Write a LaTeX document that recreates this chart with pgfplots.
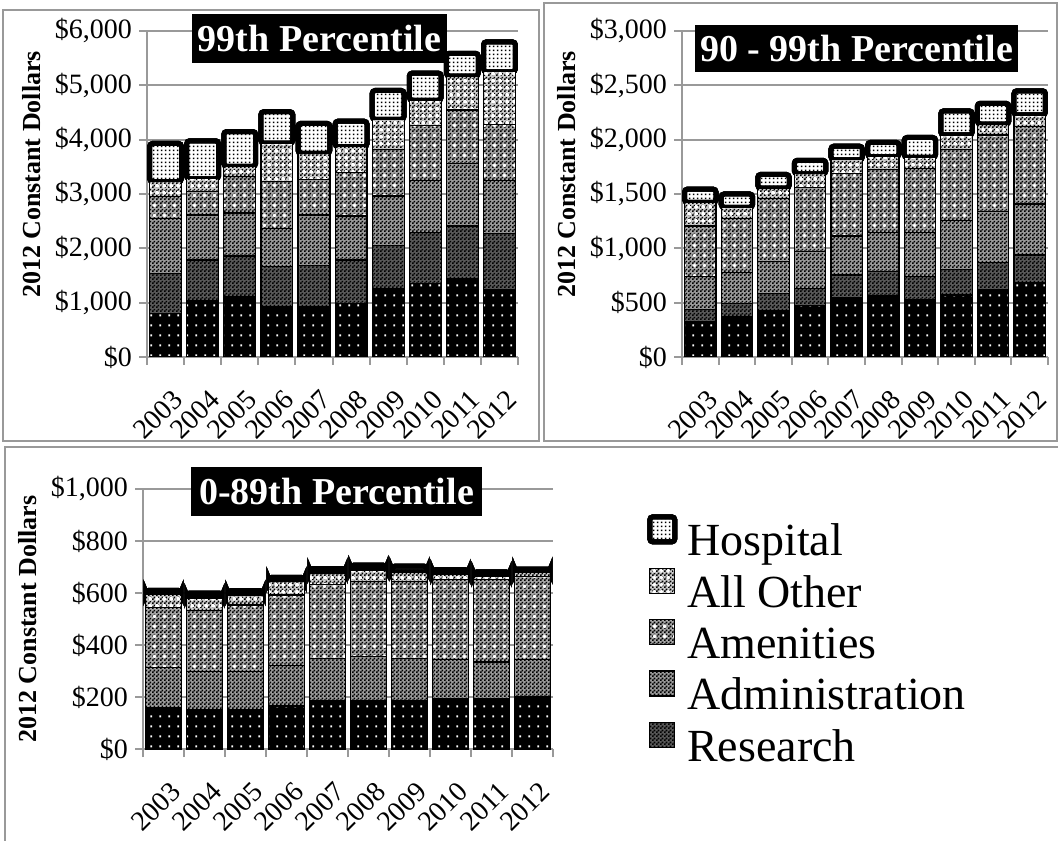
\documentclass[border=0pt]{standalone}
\usepackage{fontspec}
\setmainfont{Liberation Serif}
\usepackage{pgfplots}
\pgfplotsset{compat=1.18}
\usepackage{pgfplotstable}
\usetikzlibrary{patterns}

% fill patterns (1pt = 2px in the output)
\pgfdeclarepatternformonly{wdots}{\pgfqpoint{0pt}{0pt}}{\pgfqpoint{4.6pt}{5pt}}{\pgfqpoint{4.6pt}{5pt}}{%
  \pgfpathrectangle{\pgfqpoint{1.8pt}{2pt}}{\pgfqpoint{1pt}{1pt}}\pgfusepath{fill}}
\pgfdeclarepatternformonly{hdots}{\pgfqpoint{0pt}{0pt}}{\pgfqpoint{2pt}{2pt}}{\pgfqpoint{2pt}{2pt}}{%
  \pgfpathrectangle{\pgfqpoint{0.5pt}{0.5pt}}{\pgfqpoint{1pt}{1pt}}\pgfusepath{fill}}
\pgfdeclarepatternformonly{chk}{\pgfqpoint{0pt}{0pt}}{\pgfqpoint{2pt}{2pt}}{\pgfqpoint{2pt}{2pt}}{%
  \pgfpathrectangle{\pgfqpoint{0pt}{0pt}}{\pgfqpoint{1pt}{1pt}}%
  \pgfpathrectangle{\pgfqpoint{1pt}{1pt}}{\pgfqpoint{1pt}{1pt}}\pgfusepath{fill}}
\pgfdeclarepatternformonly{wplus}{\pgfqpoint{0pt}{0pt}}{\pgfqpoint{5pt}{5pt}}{\pgfqpoint{5pt}{5pt}}{%
  \pgfpathrectangle{\pgfqpoint{1.5pt}{2pt}}{\pgfqpoint{2pt}{1pt}}%
  \pgfpathrectangle{\pgfqpoint{2pt}{1.5pt}}{\pgfqpoint{1pt}{2pt}}\pgfusepath{fill}}
\pgfdeclarepatternformonly{wplussm}{\pgfqpoint{0pt}{0pt}}{\pgfqpoint{3.5pt}{3.5pt}}{\pgfqpoint{3.5pt}{3.5pt}}{%
  \pgfpathrectangle{\pgfqpoint{0.75pt}{1.25pt}}{\pgfqpoint{2pt}{1pt}}%
  \pgfpathrectangle{\pgfqpoint{1.25pt}{0.75pt}}{\pgfqpoint{1pt}{2pt}}\pgfusepath{fill}}

% columns: instruction, research, administration, amenities, all other, hospital
\pgfplotstableread{
x ins res adm ame oth hos
0 800 740 1010 400 280 700
1 1030 755 830 430 235 700
2 1120 740 790 675 185 640
3 925 740 705 860 705 580
4 925 755 935 645 490 550
5 990 795 810 800 475 470
6 1265 780 920 860 550 530
7 1355 930 970 1010 460 500
8 1450 960 1155 980 625 420
9 1245 1030 980 1030 965 550
}\topone

\pgfplotstableread{
x ins res adm ame oth hos
0 323 114 301 468 216 123
1 369 123 283 502 101 122
2 425 160 292 585 92 126
3 477 154 338 594 123 124
4 548 206 360 572 129 125
5 561 224 359 583 117 131
6 525 214 405 592 101 183
7 571 236 448 656 132 222
8 617 251 469 706 101 191
9 684 255 469 712 107 223
}\topnine

\pgfplotstableread{
x ins res adm ame oth hos
0 155 3 155 232 48 17
1 150 3 145 236 45 21
2 150 3 145 256 38 17
3 163 3 154 272 51 17
4 182 3 164 283 45 17
5 182 3 172 286 44 20
6 182 3 163 295 38 22
7 191 3 150 308 20 18
8 191 3 141 317 12 17
9 200 3 141 318 18 12
}\restall

\pgfplotsset{
  sqleg/.style={legend image code/.code={\draw (0pt,1.4pt) rectangle (12.5pt,13.9pt);}},
  sins/.style={draw=black, line width=0.6pt, fill=none, preaction={fill=black},
    preaction={pattern=wdots, pattern color=white}},
  sres/.style={sqleg, draw=black, line width=0.6pt, fill=none, preaction={fill=black!65},
    preaction={pattern=chk, pattern color=black}},
  sadm/.style={sqleg, draw=black, line width=0.6pt, fill=none, preaction={fill=black!40},
    preaction={pattern=chk, pattern color=black}},
  same/.style={sqleg, draw=black, line width=0.6pt, fill=none, preaction={fill=black!35},
    preaction={pattern=chk, pattern color=black}, preaction={pattern=wplus, pattern color=white}},
  soth/.style={sqleg, draw=black, line width=0.6pt, fill=none, preaction={fill=black!20},
    preaction={pattern=chk, pattern color=black}, preaction={pattern=wplussm, pattern color=white}},
  shos/.style={sqleg, draw=black, line width=2.5pt, rounded corners=1.5pt, fill=none,
    preaction={fill=white}, preaction={pattern=hdots, pattern color=black}},
  panel/.style={
    ybar stacked, bar width=0.86,
    scale only axis, anchor=south west,
    xmin=-0.5, xmax=9.5, ymin=0,
    axis x line*=bottom, axis y line*=left,
    axis line style={draw=black!40, line width=1pt, -},
    ymajorgrids, major grid style={draw=black!40, line width=1pt},
    tick align=outside, major tick length=4pt, minor tick length=4pt,
    ytick style={draw=black!40, line width=1pt},
    xtick={0,1,...,9},
    xticklabels={2003,2004,2005,2006,2007,2008,2009,2010,2011,2012},
    major x tick style={draw=none},
    minor xtick={-0.5,0.5,...,9.5},
    minor x tick style={draw=black!40, line width=1pt},
    tick label style={font=\fontsize{14}{16}\selectfont},
    xticklabel style={rotate=45, anchor=north east, inner sep=1pt, xshift=-5pt, yshift=-9pt},
    ylabel={2012 Constant Dollars},
    ylabel style={font=\bfseries\fontsize{13}{15}\selectfont, at={(ticklabel cs:0.56)}},
  },
}

\newcommand{\stackall}[1]{%
  \addplot[sins, forget plot] table[x=x, y=ins] {#1};
  \addplot[sres] table[x=x, y=res] {#1};
  \addplot[sadm] table[x=x, y=adm] {#1};
  \addplot[same] table[x=x, y=ame] {#1};
  \addplot[soth] table[x=x, y=oth] {#1};
  \addplot[shos] table[x=x, y=hos] {#1};
}

\begin{document}
\begin{tikzpicture}
\useasboundingbox (0pt,0pt) rectangle (529pt,420pt);
\draw[black!40, line width=1pt] (1.5pt,199.5pt) rectangle (269.5pt,415pt);
\draw[black!40, line width=1pt] (272pt,199.5pt) rectangle (528.5pt,418.5pt);
\draw[black!40, line width=1pt] (2.5pt,-5pt) rectangle (535pt,196.5pt);

\begin{axis}[panel, at={(73.5pt,241.5pt)}, width=185.5pt, height=163pt,
  ymax=6000, ytick={0,1000,...,6000},
  yticklabels={{\$0},{\$1,000},{\$2,000},{\$3,000},{\$4,000},{\$5,000},{\$6,000}}]
  \stackall{\topone}
\end{axis}

\begin{axis}[panel, at={(341pt,241.5pt)}, width=183pt, height=163pt,
  ymax=3000, ytick={0,500,...,3000},
  yticklabels={{\$0},{\$500},{\$1,000},{\$1,500},{\$2,000},{\$2,500},{\$3,000}}]
  \stackall{\topnine}
\end{axis}

\begin{axis}[panel, at={(71.5pt,45.5pt)}, width=205pt, height=130pt,
  ylabel style={at={(ticklabel cs:0.5)}},
  ymax=1000, ytick={0,200,...,1000},
  yticklabels={{\$0},{\$200},{\$400},{\$600},{\$800},{\$1,000}},
  reverse legend,
  legend style={at={(1.229,0.904)}, anchor=north west, draw=none, fill=none,
    inner sep=0pt, row sep=0pt, font=\fontsize{23}{26}\selectfont,
    nodes={inner sep=0pt, text height=17pt, text depth=6pt},
    /tikz/every odd column/.append style={column sep=5pt}},
  legend cell align=left]
  \stackall{\restall}
  \legend{Research,Administration,Amenities,All Other,Hospital}
\end{axis}

\node[fill=black, text=white, inner sep=0pt, minimum width=127.5pt, minimum height=24.5pt,
  font=\bfseries\fontsize{19}{22}\selectfont] at (159.75pt,400.75pt) {99th Percentile};
\node[fill=black, text=white, inner sep=0pt, minimum width=161.5pt, minimum height=23.5pt,
  font=\bfseries\fontsize{19}{22}\selectfont] at (428.25pt,395.75pt) {90 - 99th Percentile};
\node[fill=black, text=white, inner sep=0pt, minimum width=145.5pt, minimum height=24.5pt,
  font=\bfseries\fontsize{19}{22}\selectfont] at (168.25pt,174.25pt) {0-89th Percentile};
\end{tikzpicture}
\end{document}
